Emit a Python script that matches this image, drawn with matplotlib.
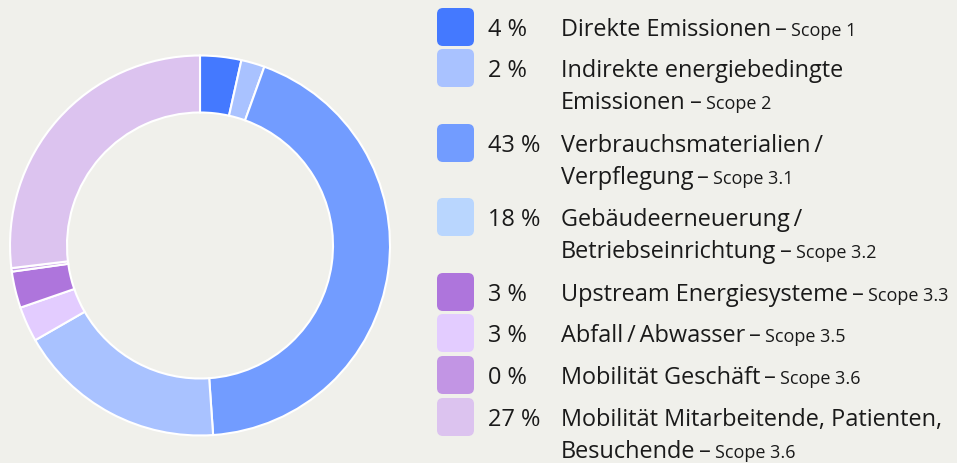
import matplotlib
matplotlib.use("Agg")
import matplotlib.pyplot as plt
from matplotlib.patches import FancyBboxPatch

# Emission shares in percent (legend order)
categories = [
    "Direkte Emissionen",
    "Indirekte energiebedingte\nEmissionen",
    "Verbrauchsmaterialien\u2009/\nVerpflegung",
    "Gebäudeerneuerung\u2009/\nBetriebseinrichtung",
    "Upstream Energiesysteme",
    "Abfall\u2009/\u2009Abwasser",
    "Mobilität Geschäft",
    "Mobilität Mitarbeitende, Patienten,\nBesuchende",
]
scopes = ["Scope 1", "Scope 2", "Scope 3.1", "Scope 3.2",
          "Scope 3.3", "Scope 3.5", "Scope 3.6", "Scope 3.6"]
shares = [3.5, 2.0, 43.4, 17.8, 3.1, 3.0, 0.3, 26.9]

legend_colors = ["#4479FF", "#A9C2FF", "#729CFF", "#B9D6FE",
                 "#AE75DC", "#E3CCFF", "#C295E4", "#DCC3EF"]
ring_colors = ["#4479FF", "#A9C2FF", "#729CFF", "#A9C2FF",
               "#AE75DC", "#E3CCFF", "#C9A0E8", "#DCC3EF"]
# ring drawn clockwise from the top; waste comes before upstream energy
ring_order = [0, 1, 2, 3, 5, 4, 6, 7]

BG = "#F0F0EB"
FONT = ["Open Sans", "DejaVu Sans"]
W, H = 957, 463

fig = plt.figure(figsize=(W / 100, H / 100), dpi=100, facecolor=BG)

# --- donut ---
cx, cy, r = 200, 245.5, 190
ax = fig.add_axes([(cx - r) / W, (H - cy - r) / H, 2 * r / W, 2 * r / H])
ax.set_facecolor(BG)
ax.pie([shares[i] for i in ring_order],
       colors=[ring_colors[i] for i in ring_order],
       startangle=90, counterclock=False, radius=1.0,
       wedgeprops=dict(width=0.30, edgecolor="white", linewidth=1.5))
ax.set_xlim(-1, 1)
ax.set_ylim(-1, 1)
ax.set_aspect("equal")
ax.axis("off")

# --- legend (pixel coordinates) ---
lg = fig.add_axes([0, 0, 1, 1], facecolor="none")
lg.set_xlim(0, W)
lg.set_ylim(H, 0)
lg.axis("off")

renderer = fig.canvas.get_renderer()
row_centers = [27, 68, 143, 217, 292, 333, 375, 417]
line_gap = 32
big, small = 16.9, 13.0
txt_color = "#1A1A1A"

for cat, scope, val, col, yc in zip(categories, scopes, shares,
                                    legend_colors, row_centers):
    box = FancyBboxPatch((437 + 3, yc - 19 + 3), 37 - 6, 38 - 6,
                         boxstyle="round,pad=3,rounding_size=6",
                         facecolor=col, edgecolor="none")
    lg.add_patch(box)
    base = yc + 9
    lg.text(488, base, f"{val:.0f} %", fontsize=big, family=FONT,
            color=txt_color, va="baseline", ha="left")
    lines = cat.split("\n")
    for k, line in enumerate(lines):
        y = base + k * line_gap
        t = lg.text(561, y, line, fontsize=big, family=FONT,
                    color=txt_color, va="baseline", ha="left")
    # trailing dash and scope tag on the last line
    ext = t.get_window_extent(renderer)
    x_end = 561 + ext.width + 4
    d = lg.text(x_end, y, "–", fontsize=big, family=FONT,
                color=txt_color, va="baseline", ha="left")
    x_end += d.get_window_extent(renderer).width + 4
    lg.text(x_end, y, scope, fontsize=small, family=FONT,
            color=txt_color, va="baseline", ha="left")

fig.savefig("out.png", dpi=100, facecolor=BG)
